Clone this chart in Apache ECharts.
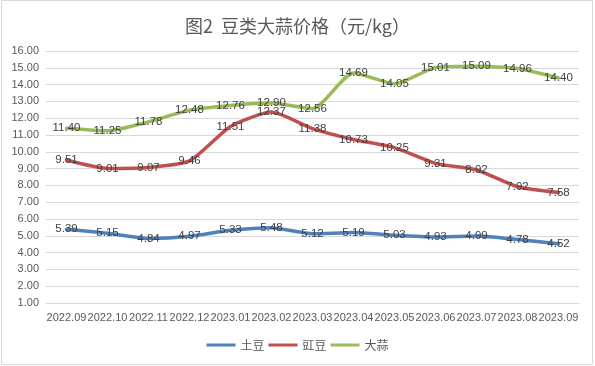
<!DOCTYPE html>
<html>
<head>
<meta charset="utf-8">
<script src="https://cdn.jsdelivr.net/npm/echarts@6/dist/echarts.min.js"></script>
<style>
html,body{margin:0;padding:0;background:#fff;}
#c{width:595px;height:366px;}
</style>
</head>
<body>
<div id="c"></div>
<script>
var categories = ['2022.09','2022.10','2022.11','2022.12','2023.01','2023.02','2023.03','2023.04','2023.05','2023.06','2023.07','2023.08','2023.09'];
var potato = [5.39, 5.15, 4.84, 4.97, 5.33, 5.48, 5.12, 5.19, 5.03, 4.93, 4.99, 4.78, 4.52];
var cowpea = [9.51, 9.01, 9.07, 9.46, 11.51, 12.37, 11.38, 10.73, 10.25, 9.31, 8.92, 7.92, 7.58];
var garlic = [11.40, 11.25, 11.78, 12.48, 12.76, 12.90, 12.56, 14.69, 14.05, 15.01, 15.09, 14.96, 14.40];
var seriesNames = ['土豆', '豇豆', '大蒜'];
var colors = ['#4F81BD', '#C0504D', '#9BBB59'];

var chart = echarts.init(document.getElementById('c'), null, {renderer: 'canvas'});
var font = 'Liberation Sans, Arial, sans-serif';
function mk(name, data, color) {
  return {
    name: name,
    type: 'line',
    data: data,
    smooth: 0.2,
    showSymbol: true,
    symbol: 'circle',
    symbolSize: 2,
    lineStyle: {color: color, width: 3.5, cap: 'round', join: 'round'},
    itemStyle: {color: color, borderWidth: 0},
    label: {
      show: true,
      position: 'inside',
      color: '#404040',
      fontSize: 11.5,
      fontFamily: font,
      formatter: function (p) { return Number(p.value).toFixed(2); }
    },
    labelLayout: {hideOverlap: false},
    emphasis: {disabled: true},
    animation: false
  };
}
chart.setOption({
  animation: false,
  title: {
    text: '图2  豆类大蒜价格（元/kg）',
    left: 'center',
    top: 12,
    textStyle: {color: '#595959', fontSize: 18, fontWeight: 'normal', fontFamily: 'Noto Sans CJK SC, sans-serif'}
  },
  legend: {
    bottom: 10,
    left: 'center',
    icon: 'rect',
    itemWidth: 29,
    itemHeight: 3,
    itemGap: 4,
    textStyle: {color: '#595959', fontSize: 12, fontFamily: 'Noto Sans CJK SC, sans-serif'},
    data: seriesNames
  },
  grid: {left: 46, right: 16, top: 51, bottom: 63, containLabel: false},
  xAxis: {
    type: 'category',
    data: categories,
    boundaryGap: true,
    axisLine: {show: true, lineStyle: {color: '#D9D9D9', width: 1}},
    axisTick: {show: false},
    axisLabel: {color: '#595959', fontSize: 11, fontFamily: font, margin: 9, interval: 0}
  },
  yAxis: {
    type: 'value',
    min: 1,
    max: 16,
    interval: 1,
    axisLine: {show: false},
    axisTick: {show: false},
    splitLine: {lineStyle: {color: '#D9D9D9', width: 1}},
    axisLabel: {color: '#595959', fontSize: 11, fontFamily: font, margin: 7,
      formatter: function (v) { return v.toFixed(2); }}
  },
  graphic: [{
    type: 'rect',
    shape: {x: 1.5, y: 0.5, width: 591, height: 364},
    style: {fill: 'none', stroke: '#D9D9D9', lineWidth: 1},
    silent: true
  }],
  series: [
    mk(seriesNames[0], potato, colors[0]),
    mk(seriesNames[1], cowpea, colors[1]),
    mk(seriesNames[2], garlic, colors[2])
  ]
});
</script>
</body>
</html>
